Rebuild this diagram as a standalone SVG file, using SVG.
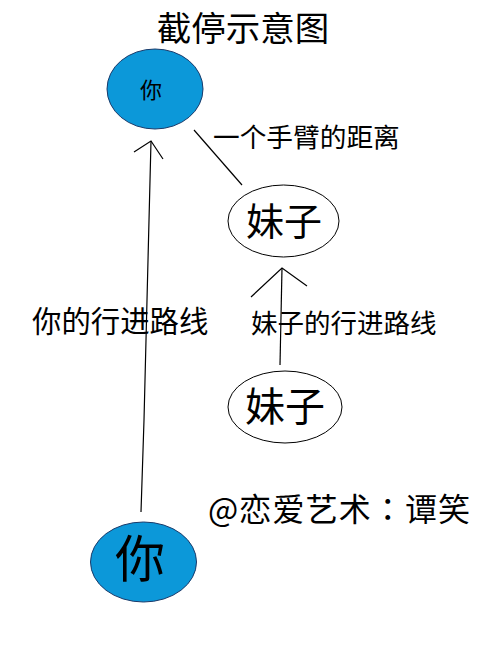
<svg xmlns="http://www.w3.org/2000/svg" width="486" height="648" viewBox="0 0 486 648">
<style>
text{font-family:"Noto Sans CJK SC","Noto Sans",sans-serif;fill:#000}
.tc{font-family:"Noto Sans CJK TC","Noto Sans CJK SC",sans-serif}
.blue{fill:#0c98d9;stroke:#1a3a6a;stroke-width:1}
.white{fill:#fff;stroke:#000;stroke-width:1}
.ln{stroke:#000;stroke-width:1.2;fill:none}
</style>
<rect width="486" height="648" fill="#fff"/>
<text x="243" y="41" font-size="34.5" text-anchor="middle">截停示意图</text>
<g id="connectors">
<polyline class="ln" points="141,512 144,420 147,300 151,141"/>
<polyline class="ln" points="134,152 151,141 163,159"/>
<line class="ln" x1="194" y1="130" x2="242" y2="185"/>
<line class="ln" x1="280" y1="365" x2="282" y2="268"/>
<polyline class="ln" points="251,297 282,268 307,286"/>
</g>
<g id="you-top">
<ellipse class="blue" cx="155" cy="89" rx="48" ry="40"/>
<text x="151" y="98" font-size="22" text-anchor="middle">你</text>
</g>
<g id="you-bottom">
<ellipse class="blue" cx="143.5" cy="562" rx="53" ry="40"/>
<text x="140" y="577" font-size="50" text-anchor="middle">你</text>
</g>
<g id="meizi-top">
<ellipse class="white" cx="283.5" cy="221" rx="55.5" ry="36"/>
<text x="284" y="235" font-size="38" text-anchor="middle">妹子</text>
</g>
<g id="meizi-bottom">
<ellipse class="white" cx="285" cy="407" rx="57" ry="36"/>
<text x="285" y="421" font-size="40" text-anchor="middle">妹子</text>
</g>
<g id="labels">
<text x="213" y="147" font-size="26.7">一个手臂的距离</text>
<text x="32" y="332" font-size="29.4">你的行进路线</text>
<text x="251" y="333" font-size="26.5">妹子的行进路线</text>
<text class="tc" x="208" y="521" font-size="32" textLength="262" lengthAdjust="spacing">@恋爱艺术：谭笑</text>
</g>
</svg>
